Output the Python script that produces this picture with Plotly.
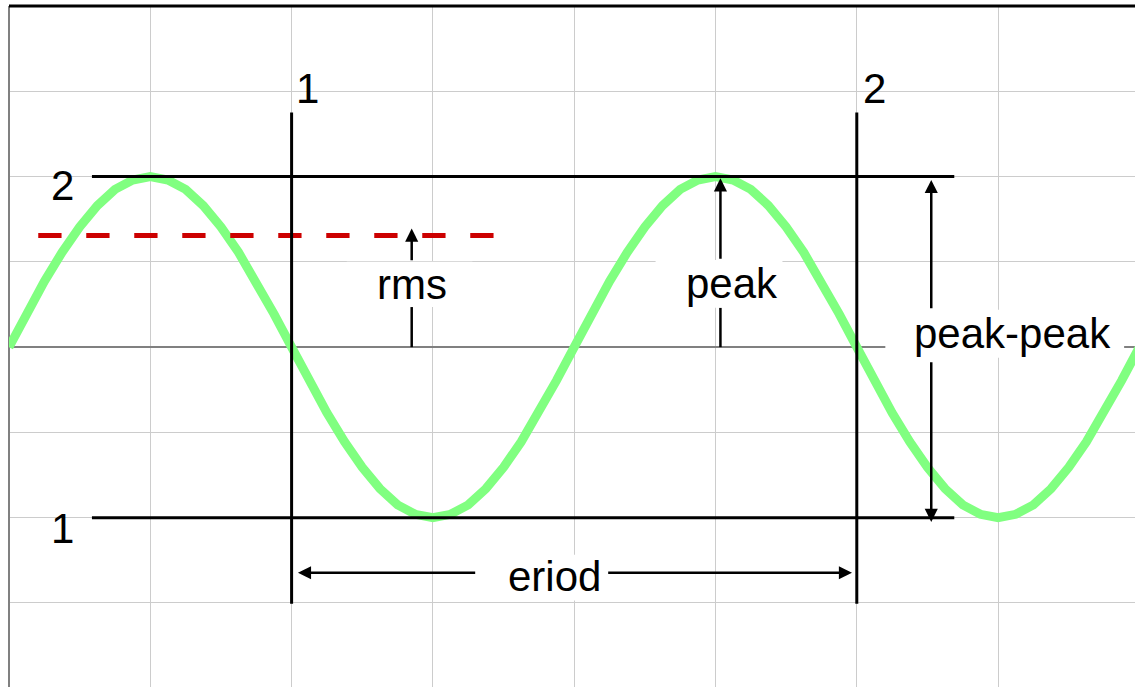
import plotly.graph_objects as go

# ---- data ----
wave_x = [i * 0.125 for i in range(65)]
wave_y = [0, 0.39, 0.77, 1.11, 1.41, 1.66, 1.85, 1.96, 2.0, 1.96, 1.85, 1.66, 1.41, 1.11, 0.77, 0.39,
          0, -0.39, -0.77, -1.11, -1.41, -1.66, -1.85, -1.96, -2.0, -1.96, -1.85, -1.66, -1.41, -1.11, -0.77, -0.39,
          0, 0.39, 0.77, 1.11, 1.41, 1.66, 1.85, 1.96, 2.0, 1.96, 1.85, 1.66, 1.41, 1.11, 0.77, 0.39,
          0, -0.39, -0.77, -1.11, -1.41, -1.66, -1.85, -1.96, -2.0, -1.96, -1.85, -1.66, -1.41, -1.11, -0.77, -0.39,
          0]
rms_x = [0.207, 3.43]
rms_level = 1.31
peak_level = 2.0
trough_level = -2.0
period_start = 2.0
period_end = 6.0

FONT = "Liberation Sans, Arial, sans-serif"
FS = 42

fig = go.Figure()
fig.add_trace(go.Scatter(x=wave_x, y=wave_y, mode="lines",
                         line=dict(color="#80FF80", width=9), hoverinfo="skip"))
fig.add_trace(go.Scatter(x=rms_x, y=[rms_level, rms_level], mode="lines",
                         line=dict(color="#CC0000", width=5, dash="23.3px,24.7px"), hoverinfo="skip"))

shapes = []
# white boxes behind labels (hide gridlines)
for (x0, x1, y0, y1) in [(2.39, 3.28, 0.472, 1.0), (4.576, 5.474, 0.461, 1.023),
                         (6.202, 7.892, -0.125, 0.437), (3.31, 4.229, -2.97, -2.435)]:
    shapes.append(dict(type="rect", xref="x", yref="y", x0=x0, x1=x1, y0=y0, y1=y1,
                       fillcolor="white", line=dict(width=0), layer="between"))
# black reference lines
for yy in [peak_level, trough_level]:
    shapes.append(dict(type="line", xref="x", yref="y", x0=0.587, x1=6.69, y0=yy, y1=yy,
                       line=dict(color="black", width=3), layer="above"))
for xx in [period_start, period_end]:
    shapes.append(dict(type="line", xref="x", yref="y", x0=xx, x1=xx, y0=-3.01, y1=2.75,
                       line=dict(color="black", width=3), layer="above"))
# arrow tails (segments below the labels)
for (x0, y0, x1, y1) in [(2.85, 0.0, 2.85, 0.47), (5.035, 0.0, 5.035, 0.46)]:
    shapes.append(dict(type="line", xref="x", yref="y", x0=x0, x1=x1, y0=y0, y1=y1,
                       line=dict(color="black", width=2.5), layer="above"))
# top border
shapes.append(dict(type="line", xref="paper", yref="paper", x0=0, x1=1, y0=1, y1=1,
                   line=dict(color="black", width=3), layer="above"))

annotations = []
def arrow(tx, ty, fx, fy):
    annotations.append(dict(x=tx, y=ty, ax=fx, ay=fy, xref="x", yref="y", axref="x", ayref="y",
                            text="", showarrow=True, arrowhead=2, arrowsize=1.05, arrowwidth=2.5,
                            arrowcolor="black", standoff=0, startstandoff=0))
arrow(2.85, 1.39, 2.85, 1.0)          # rms
arrow(5.035, 1.98, 5.035, 1.02)       # peak
arrow(6.527, 1.96, 6.527, 0.437)      # peak-peak up
arrow(6.527, -2.05, 6.527, -0.16)     # peak-peak down
arrow(2.045, -2.646, 3.31, -2.646)    # period left
arrow(5.966, -2.646, 4.23, -2.646)    # period right

def label(txt, x, y):
    annotations.append(dict(x=x, y=y, xref="x", yref="y", text=txt, showarrow=False,
                            xanchor="center", yanchor="middle",
                            font=dict(family=FONT, size=FS, color="black")))
label("2", 0.382, 1.898)
label("1", 0.382, -2.123)
label("1", 2.111, 3.03)
label("2", 6.122, 3.03)
label("rms", 2.854, 0.73)
label("peak", 5.117, 0.75)
label("peak-peak", 7.1, 0.16)
label("eriod", 3.861, -2.69)

axis_common = dict(showticklabels=False, ticks="", showline=False, gridcolor="#cccccc", gridwidth=1.3,
                   zeroline=True, zerolinecolor="#808080", zerolinewidth=2, dtick=1, tick0=0)
fig.update_layout(
    width=1135, height=687,
    margin=dict(l=9, r=0, t=6, b=0),
    paper_bgcolor="white", plot_bgcolor="white",
    showlegend=False,
    xaxis=dict(range=[0, 7.969], **axis_common),
    yaxis=dict(range=[-3.985, 4], **axis_common),
    shapes=shapes, annotations=annotations,
)
fig.write_html("out.html", config={"displayModeBar": False},
               post_script="document.body.style.margin='0';document.body.style.overflow='hidden';")
